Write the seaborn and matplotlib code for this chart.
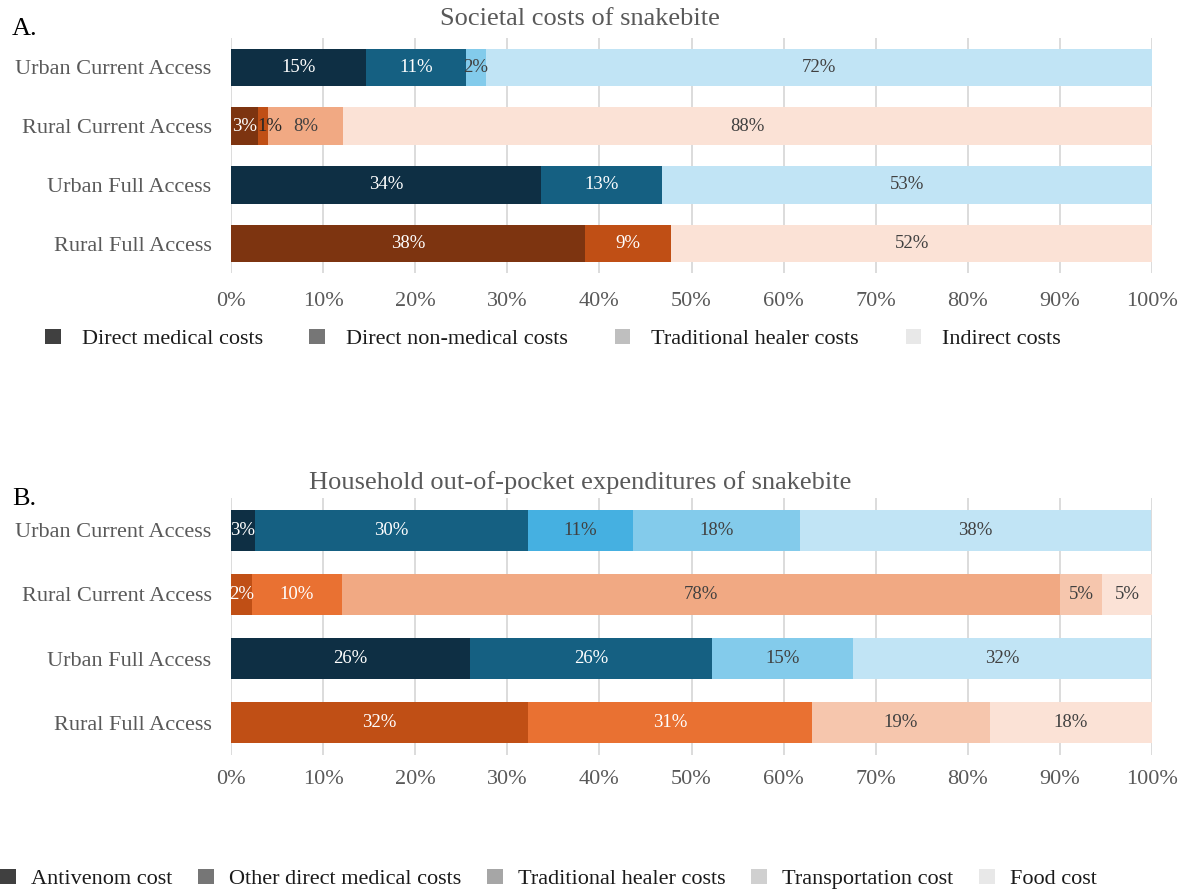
import matplotlib
matplotlib.use("Agg")
import matplotlib.pyplot as plt
from matplotlib.patches import Patch
import numpy as np
import pandas as pd
import seaborn as sns

sns.set_theme(style="white")
plt.rcParams['font.family'] = ['Liberation Serif', 'DejaVu Serif']

# ---- data ----
rows = ['Urban Current Access', 'Rural Current Access', 'Urban Full Access', 'Rural Full Access']

# A. societal costs (% share)
a_series = ['Direct medical costs', 'Direct non-medical costs', 'Traditional healer costs', 'Indirect costs']
a_direct_medical = [14.7, 2.9, 33.7, 38.4]
a_direct_nonmedical = [10.8, 1.1, 13.1, 9.4]
a_healer = [2.2, 8.2, 0.0, 0.0]
a_indirect = [72.3, 87.8, 53.2, 52.2]

# B. household out-of-pocket (% share)
b_series = ['Antivenom cost', 'Other direct medical costs', 'Traditional healer costs',
            'Transportation cost', 'Food cost']
b_antivenom = [2.6, 2.3, 26.0, 32.2]
b_other_direct = [29.6, 9.7, 26.2, 30.9]
b_healer = [11.4, 78.0, 0.0, 0.0]
b_transport = [18.2, 4.6, 15.3, 19.3]
b_food = [38.1, 5.4, 32.4, 17.6]

xticks = list(range(0, 101, 10))

# ---- colours (per row, per series) ----
a_colors = {
    'Urban Current Access': ['#0e2f44', '#156082', '#83cbeb', '#c1e4f5'],
    'Rural Current Access': ['#7d3410', '#c04f15', '#f1a983', '#fbe2d6'],
    'Urban Full Access':    ['#0e2f44', '#156082', '#83cbeb', '#c1e4f5'],
    'Rural Full Access':    ['#7d3410', '#c04f15', '#f1a983', '#fbe2d6'],
}
b_colors = {
    'Urban Current Access': ['#0e2f44', '#156082', '#45b0e1', '#83cbeb', '#c1e4f5'],
    'Rural Current Access': ['#c04f15', '#e97132', '#f1a983', '#f6c6ad', '#fbe2d6'],
    'Urban Full Access':    ['#0e2f44', '#156082', '#45b0e1', '#83cbeb', '#c1e4f5'],
    'Rural Full Access':    ['#c04f15', '#e97132', '#f1a983', '#f6c6ad', '#fbe2d6'],
}
a_legend_grays = ['#404040', '#767676', '#bfbfbf', '#e8e8e8']
b_legend_grays = ['#404040', '#767676', '#a6a6a6', '#d0d0d0', '#e8e8e8']

GRAY = '#595959'


def is_dark(hexcol):
    r, g, b = matplotlib.colors.to_rgb(hexcol)
    return (0.299 * r + 0.587 * g + 0.114 * b) * 255 < 145


def stacked(ax, values, colors, tick_pad):
    vals = np.array(values)          # series x rows
    cum = vals.cumsum(axis=0)
    # draw from the longest cumulative bar down to the shortest
    for k in range(vals.shape[0] - 1, -1, -1):
        df = pd.DataFrame({'row': rows, 'x': cum[k]})
        pal = {r: colors[r][k] for r in rows}
        sns.barplot(data=df, x='x', y='row', hue='row', palette=pal, orient='h',
                    width=0.64, saturation=1, legend=False, ax=ax, linewidth=0)
    # segment labels
    for k in range(vals.shape[0]):
        for i, r in enumerate(rows):
            w = vals[k, i]
            if w <= 0:
                continue
            c = colors[r][k]
            if w < 1.5:
                # tiny segment: label starts at the segment, dark text
                ax.text(cum[k, i] - w, i, f"{w:.0f}%", ha='left', va='center',
                        fontsize=13.5, color='#262626')
                continue
            tc = 'white' if is_dark(c) else '#404040'
            ax.text(cum[k, i] - w / 2, i, f"{w:.0f}%", ha='center', va='center',
                    fontsize=13.5, color=tc)
    ax.set_xlim(0, 100)
    ax.set_ylim(3.5, -0.5)
    ax.set_xticks(xticks)
    ax.set_xticklabels([f"{t}%" for t in xticks])
    ax.xaxis.grid(True, color='#d9d9d9', linewidth=1.3)
    ax.set_axisbelow(True)
    for s in ax.spines.values():
        s.set_visible(False)
    ax.tick_params(axis='x', length=0, pad=tick_pad, labelsize=16, labelcolor=GRAY)
    ax.tick_params(axis='y', length=0, pad=14, labelsize=16, labelcolor=GRAY)
    ax.set_xlabel('')
    ax.set_ylabel('')


fig = plt.figure(figsize=(11.79, 8.91), dpi=100)
W, H = 1179, 891

ax_a = fig.add_axes([231 / W, 1 - 273 / H, 921 / W, 235 / H])
stacked(ax_a, [a_direct_medical, a_direct_nonmedical, a_healer, a_indirect], a_colors, 14)

ax_b = fig.add_axes([231 / W, 1 - 755 / H, 921 / W, 257 / H])
stacked(ax_b, [b_antivenom, b_other_direct, b_healer, b_transport, b_food], b_colors, 11)

# titles and panel letters
fig.text(580 / W, 1 - 19 / H, 'Societal costs of snakebite', ha='center', va='center',
         fontsize=19, color=GRAY)
fig.text(580 / W, 1 - 483 / H, 'Household out-of-pocket expenditures of snakebite',
         ha='center', va='center', fontsize=19, color=GRAY)
fig.text(12 / W, 1 - 29 / H, 'A.', ha='left', va='center', fontsize=19, color='black')
fig.text(12 / W, 1 - 499 / H, 'B.', ha='left', va='center', fontsize=19, color='black')

# legends (grey swatches)
handles_a = [Patch(facecolor=c, edgecolor='none') for c in a_legend_grays]
fig.legend(handles_a, a_series, loc='center left', bbox_to_anchor=(45 / W, 1 - 339 / H),
           ncol=4, frameon=False, fontsize=16, handlelength=0.7, handleheight=0.7,
           handletextpad=0.95, columnspacing=2.1, borderaxespad=0, borderpad=0,
           labelcolor='#1a1a1a')

handles_b = [Patch(facecolor=c, edgecolor='none') for c in b_legend_grays]
fig.legend(handles_b, b_series, loc='center left', bbox_to_anchor=(0 / W, 1 - 879 / H),
           ncol=5, frameon=False, fontsize=16, handlelength=0.7, handleheight=0.7,
           handletextpad=0.7, columnspacing=1.15, borderaxespad=0, borderpad=0,
           labelcolor='#1a1a1a')

fig.savefig('out.png', dpi=100)
